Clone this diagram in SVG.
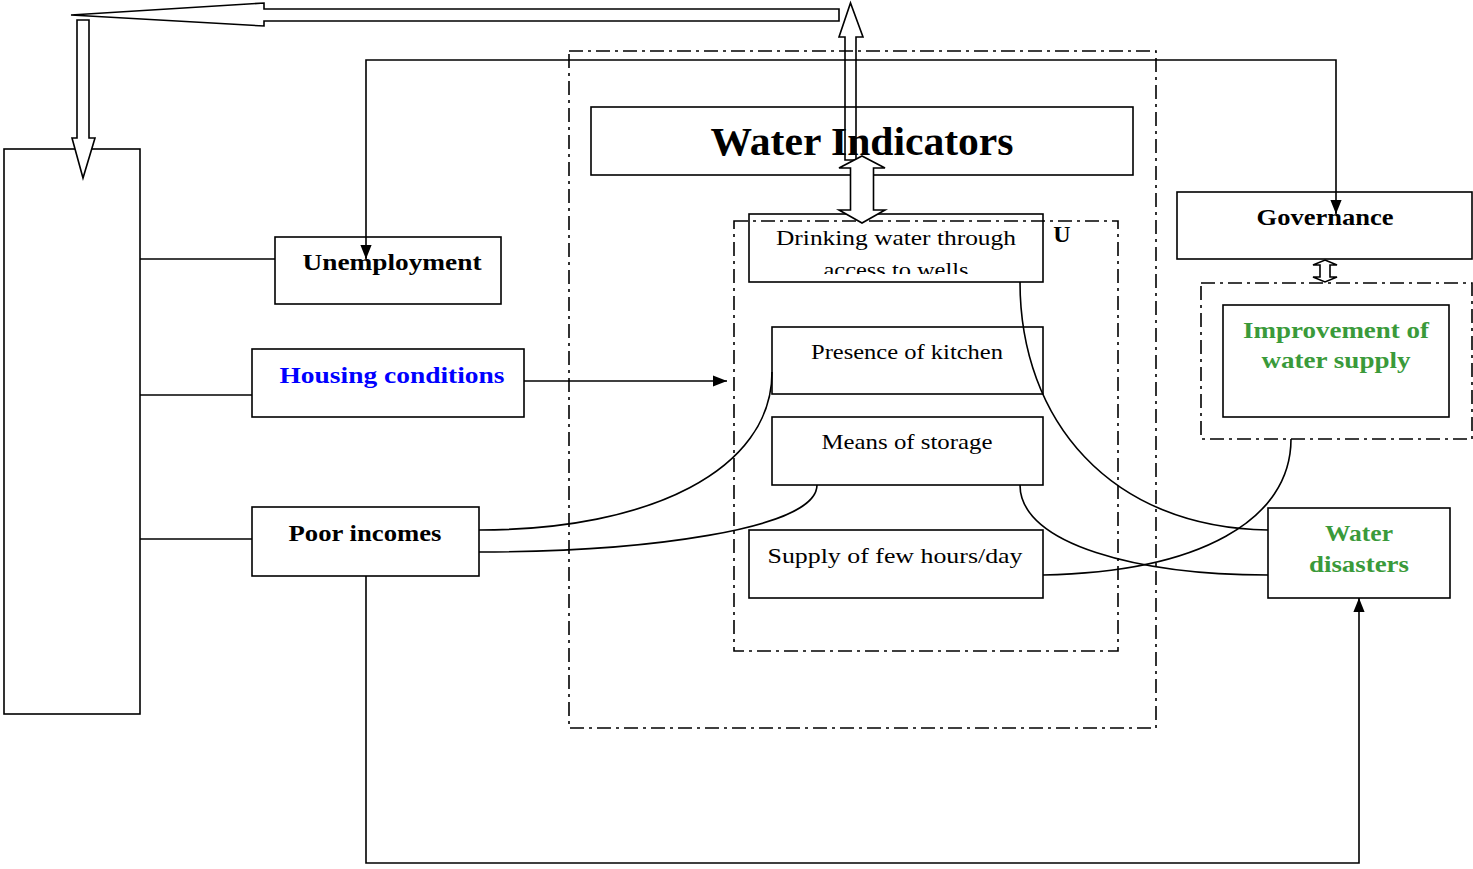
<svg xmlns="http://www.w3.org/2000/svg" width="1473" height="869" viewBox="0 0 1473 869">
<style>
.box{fill:none;stroke:#000;stroke-width:1.6}
.dd{fill:none;stroke:#000;stroke-width:1.6;stroke-dasharray:14 5 3 5}
.ln{fill:none;stroke:#000;stroke-width:1.6}
.hol{fill:#fff;stroke:#000;stroke-width:1.6;stroke-linejoin:miter}
.holn{fill:none;stroke:#000;stroke-width:1.6;stroke-linejoin:miter}
.t{font-family:"Liberation Serif","DejaVu Serif",serif;font-size:22px;fill:#000;text-anchor:middle}
.b{font-weight:bold;font-size:24px}
.g{fill:#3a9a3a}
.bl{fill:#0000ff}
</style>
<defs>
<marker id="ah2" viewBox="0 0 10 10" refX="10" refY="5" markerWidth="14" markerHeight="14" markerUnits="userSpaceOnUse" orient="auto"><path d="M0,1 L10,5 L0,9 Z" fill="#000"/></marker>
<clipPath id="cw"><rect x="749" y="214" width="294" height="60"/></clipPath>
</defs>

<g id="frames">
<rect class="dd" x="569" y="51" width="587" height="677"/>
<rect class="dd" x="734" y="221" width="384" height="430"/>
<rect class="dd" x="1201" y="283" width="271" height="156"/>
</g>

<g id="left-box"><rect class="box" x="4" y="149" width="136" height="565"/></g>

<g id="water-indicators">
<rect class="box" x="591" y="107" width="542" height="68"/>
<text class="t b" x="862" y="155" style="font-size:40px" textLength="303" lengthAdjust="spacingAndGlyphs">Water Indicators</text>
</g>

<g id="drinking">
<rect class="box" x="749" y="214" width="294" height="68"/>
<text class="t" x="896" y="245" textLength="240" lengthAdjust="spacingAndGlyphs">Drinking water through</text>
<text class="t" x="896" y="277" clip-path="url(#cw)" textLength="145" lengthAdjust="spacingAndGlyphs">access to wells</text>
<text class="t b" x="1062" y="242" style="font-size:24px">U</text>
</g>
<g id="kitchen">
<rect class="box" x="772" y="327" width="271" height="67"/>
<text class="t" x="907" y="359" textLength="192" lengthAdjust="spacingAndGlyphs">Presence of kitchen</text>
</g>
<g id="storage">
<rect class="box" x="772" y="417" width="271" height="68"/>
<text class="t" x="907" y="449" textLength="171" lengthAdjust="spacingAndGlyphs">Means of storage</text>
</g>
<g id="supply">
<rect class="box" x="749" y="530" width="294" height="68"/>
<text class="t" x="895" y="563" textLength="255" lengthAdjust="spacingAndGlyphs">Supply of few hours/day</text>
</g>

<g id="unemployment">
<rect class="box" x="275" y="237" width="226" height="67"/>
<text class="t b" x="392" y="270" textLength="179" lengthAdjust="spacingAndGlyphs">Unemployment</text>
</g>
<g id="housing">
<rect class="box" x="252" y="349" width="272" height="68"/>
<text class="t b bl" x="392" y="383" textLength="225" lengthAdjust="spacingAndGlyphs">Housing conditions</text>
</g>
<g id="poor-incomes">
<rect class="box" x="252" y="507" width="227" height="69"/>
<text class="t b" x="365" y="541" textLength="153" lengthAdjust="spacingAndGlyphs">Poor incomes</text>
</g>

<g id="governance">
<rect class="box" x="1177" y="192" width="295" height="67"/>
<text class="t b" x="1325" y="225" textLength="137" lengthAdjust="spacingAndGlyphs">Governance</text>
</g>
<g id="improvement">
<rect class="box" x="1223" y="305" width="226" height="112"/>
<text class="t b g" x="1336" y="338" textLength="186" lengthAdjust="spacingAndGlyphs">Improvement of</text>
<text class="t b g" x="1336" y="368" textLength="149" lengthAdjust="spacingAndGlyphs">water supply</text>
</g>
<g id="water-disasters">
<rect class="box" x="1268" y="508" width="182" height="90"/>
<text class="t b g" x="1359" y="541" textLength="68" lengthAdjust="spacingAndGlyphs">Water</text>
<text class="t b g" x="1359" y="572" textLength="100" lengthAdjust="spacingAndGlyphs">disasters</text>
</g>

<g id="connectors">
<polyline class="ln" points="366,258 366,60 1336,60 1336,213" />
<line class="ln" x1="366" y1="245" x2="366" y2="259" marker-end="url(#ah2)"/>
<line class="ln" x1="1336" y1="200" x2="1336" y2="214" marker-end="url(#ah2)"/>
<line class="ln" x1="140" y1="259" x2="275" y2="259"/>
<line class="ln" x1="140" y1="395" x2="252" y2="395"/>
<line class="ln" x1="140" y1="539" x2="252" y2="539"/>
<line class="ln" x1="524" y1="381" x2="727" y2="381" marker-end="url(#ah2)"/>
<polyline class="ln" points="366,576 366,863 1359,863 1359,605"/>
<line class="ln" x1="1359" y1="612" x2="1359" y2="598" marker-end="url(#ah2)"/>
<path class="ln" d="M1020,282 C1020,420 1110,528 1268,530"/>
<path class="ln" d="M772,372 C772,470 650,530 479,530"/>
<path class="ln" d="M817,485 C817,530 640,552 479,552"/>
<path class="ln" d="M1020,485 C1020,545 1140,575 1268,575"/>
<path class="ln" d="M1043,575 C1200,572 1291,520 1291,439"/>
<polygon class="hol" points="71,15 264,3 264,9 839,9 839,21 264,21 264,26"/>
<polygon class="hol" points="77,20 89,20 89,138 95,138 83,178 72,138 77,138"/>
<polygon class="holn" points="845,160 845,37 839,37 850.5,3 863,37 856,37 856,160"/>
<polygon class="hol" points="862,156 885,168 873.5,168 873.5,210 885,210 862,223 839,210 850.5,210 850.5,168 839,168"/>
<polygon class="hol" points="1325,260 1337,265 1330,265 1330,277 1337,277 1325,282 1313,277 1320,277 1320,265 1313,265"/>
</g>
</svg>
